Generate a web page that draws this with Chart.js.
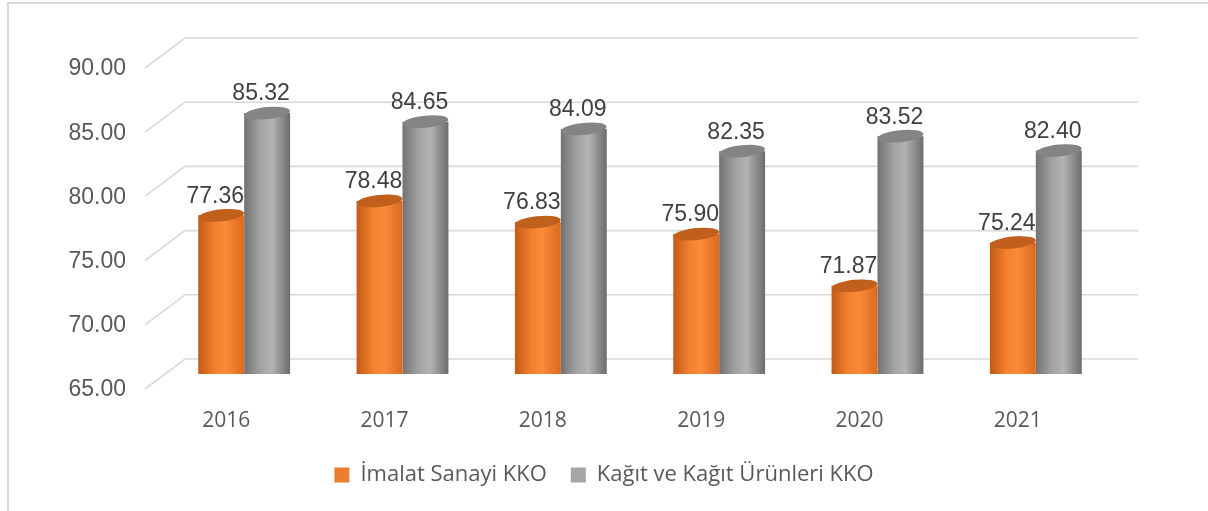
<!DOCTYPE html>
<html>
<head>
<meta charset="utf-8">
<script src="https://cdn.jsdelivr.net/npm/chart.js@4.4.1/dist/chart.umd.min.js"></script>
<style>
  html, body { margin: 0; padding: 0; background: #fff; }
  #wrap { width: 1208px; height: 511px; }
</style>
</head>
<body>
<div id="wrap"><canvas id="graph" width="1208" height="511"></canvas></div>
<script>
// Data
const years = ['2016', '2017', '2018', '2019', '2020', '2021'];
const imalatKKO = [77.36, 78.48, 76.83, 75.90, 71.87, 75.24];
const kagitKKO = [85.32, 84.65, 84.09, 82.35, 83.52, 82.40];
const seriesNames = ['İmalat Sanayi KKO', 'Kağıt ve Kağıt Ürünleri KKO'];

// cylinder shading: left edge -> highlight -> right edge, plus top cap
const shades = [
    { stops: ['#c25a16', '#f2802f', '#fb8b38', '#d96a20'], cap: '#c1601d', base: '#ed7d31' },
    { stops: ['#727272', '#a2a2a2', '#b3b3b3', '#6c6c6c'], cap: '#848484', base: '#a5a5a5' },
];

const depth = 15; // half depth of the fake 3D floor/wall

const frame = {
    id: 'frame',
    beforeDraw(chart) {
        const c = chart.ctx;
        c.save();
        c.strokeStyle = '#d9d9d9';
        c.lineWidth = 2;
        c.beginPath();
        c.moveTo(8, 511);
        c.lineTo(8, 3);
        c.lineTo(1208, 3);
        c.stroke();

        // gridlines: short diagonal on the side wall + line on the back wall
        const y = chart.scales.y;
        const area = chart.chartArea;
        c.lineWidth = 1.6;
        y.ticks.forEach(t => {
            const py = y.getPixelForValue(t.value);
            c.beginPath();
            c.moveTo(area.left - 20, py + depth);
            c.lineTo(area.left + 20, py - depth);
            c.lineTo(area.right + 23, py - depth);
            c.stroke();
        });
        c.restore();
    },
    beforeDatasetsDraw(chart) {
        const c = chart.ctx;
        chart.data.datasets.forEach((ds, di) => {
            const s = shades[di];
            chart.getDatasetMeta(di).data.forEach(el => {
                const { x, width } = el.getProps(['x', 'width'], true);
                const g = c.createLinearGradient(x - width / 2, 0, x + width / 2, 0);
                g.addColorStop(0, s.stops[0]);
                g.addColorStop(0.35, s.stops[1]);
                g.addColorStop(0.6, s.stops[2]);
                g.addColorStop(1, s.stops[3]);
                el.options = Object.assign({}, el.options, { backgroundColor: g });
            });
        });
    },
    afterDatasetDraw(chart, args) {
        const c = chart.ctx;
        const s = shades[args.index];
        args.meta.data.forEach(el => {
            const { x, y, base, width } = el.getProps(['x', 'y', 'base', 'width'], true);
            const rx = width / 2;
            c.save();
            // rounded bottom
            c.fillStyle = el.options.backgroundColor;
            c.beginPath();
            c.ellipse(x, base, rx, 5, 0, 0, Math.PI);
            c.fill();
            // top cap
            c.fillStyle = s.cap;
            c.beginPath();
            c.ellipse(x, y, rx, 6, -0.1, 0, Math.PI * 2);
            c.fill();
            c.restore();
        });
    },
    afterDatasetsDraw(chart) {
        const c = chart.ctx;
        c.save();
        c.font = '23px "Liberation Sans", Arial, sans-serif';
        c.fillStyle = '#404040';
        c.textAlign = 'center';
        c.textBaseline = 'middle';
        chart.data.datasets.forEach((ds, di) => {
            chart.getDatasetMeta(di).data.forEach((el, i) => {
                c.fillText(ds.data[i].toFixed(2), el.x - 6, el.y - 19);
            });
        });
        c.restore();
    }
};

const ctx = document.getElementById('graph').getContext('2d');
const chart = new Chart(ctx, {
    type: 'bar',
    data: {
        labels: years,
        datasets: [
            {
                label: seriesNames[0],
                data: imalatKKO,
                backgroundColor: shades[0].base,
                borderWidth: 0,
            },
            {
                label: seriesNames[1],
                data: kagitKKO,
                backgroundColor: shades[1].base,
                borderWidth: 0,
            },
        ],
    },
    options: {
        responsive: false,
        animation: false,
        devicePixelRatio: 1,
        categoryPercentage: 0.58,
        barPercentage: 1,
        layout: { padding: { top: 53, bottom: 15, left: 0, right: 0 } },
        plugins: {
            legend: {
                position: 'bottom',
                labels: {
                    boxWidth: 15,
                    boxHeight: 15,
                    padding: 24,
                    color: '#595959',
                    font: { family: '"Open Sans", sans-serif', size: 22 },
                },
            },
            tooltip: { enabled: false },
        },
        scales: {
            x: {
                grid: { display: false, drawTicks: false },
                border: { display: false },
                ticks: {
                    color: '#595959',
                    font: { family: '"Open Sans", sans-serif', size: 21 },
                    padding: 34,
                    labelOffset: -18,
                },
                afterFit: s => { s.height = 66; },
            },
            y: {
                min: 65,
                max: 90,
                grid: { display: false, drawTicks: false },
                border: { display: false },
                ticks: {
                    stepSize: 5,
                    color: '#595959',
                    font: { family: '"Liberation Sans", Arial, sans-serif', size: 23 },
                    padding: 39,
                    labelOffset: 16,
                    callback: v => v.toFixed(2),
                },
                afterFit: s => { s.width = 165; },
            },
            yR: {
                position: 'right',
                grid: { display: false, drawTicks: false },
                border: { display: false },
                ticks: { display: false },
                afterFit: s => { s.width = 93; },
            },
        },
    },
    plugins: [frame],
});
</script>
</body>
</html>
